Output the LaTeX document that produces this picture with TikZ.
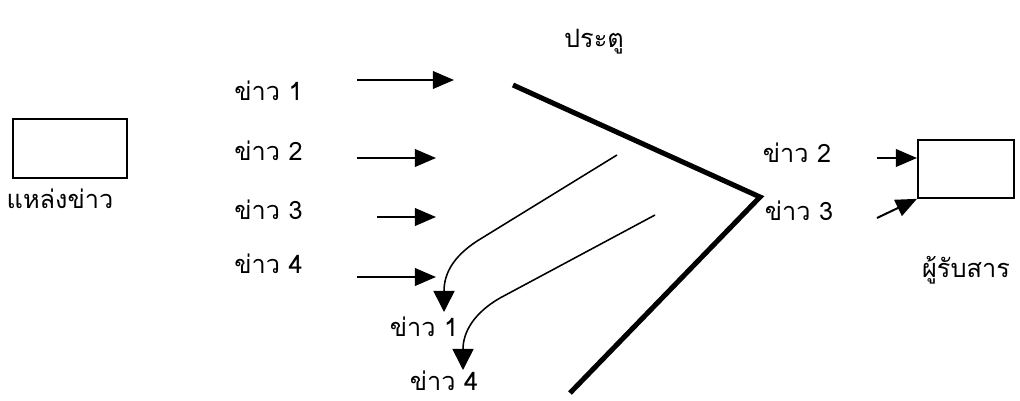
\documentclass[tikz,border=0pt]{standalone}
\usepackage{fontspec}
\setmainfont[Script=Thai]{Loma}
\usetikzlibrary{arrows.meta}
\begin{document}
\begin{tikzpicture}[x=0.025cm,y=-0.025cm,
  lbl/.style={font=\fontsize{18pt}{20pt}\selectfont, inner sep=0pt},
  box/.style={draw, line width=1.3pt, minimum width=0pt, inner sep=0pt},
  inarrow/.style={line width=1.4pt, -{Triangle[length=15pt,width=12.5pt]}},
  curvearrow/.style={line width=1.1pt, -{Triangle[length=15pt,width=15pt]}},
  gate/.style={line width=3.6pt, line join=miter}]
\useasboundingbox (0,0) rectangle (1020,401);
% source box
\draw[box] (13,119) rectangle (127,178);
\node[lbl, anchor=base] (src) at (60,208) {แหล่งข่าว};
% left labels
\node[lbl, anchor=base west] (n1) at (234,100) {ข่าว 1};
\node[lbl, anchor=base west] (n2) at (234,160) {ข่าว 2};
\node[lbl, anchor=base west] (n3) at (234,219) {ข่าว 3};
\node[lbl, anchor=base west] (n4) at (234,273) {ข่าว 4};
% input arrows
\coordinate (a1s) at (357,80);  \coordinate (a1e) at (454,80);
\coordinate (a2s) at (357,158); \coordinate (a2e) at (436,158);
\coordinate (a3s) at (377,217); \coordinate (a3e) at (436,217);
\coordinate (a4s) at (357,277); \coordinate (a4e) at (436,277);
\draw[inarrow] (a1s) -- (a1e);
\draw[inarrow] (a2s) -- (a2e);
\draw[inarrow] (a3s) -- (a3e);
\draw[inarrow] (a4s) -- (a4e);
% gate
\node[lbl, anchor=base] (gatelbl) at (594,47) {ประตู};
\coordinate (g1) at (513,85);
\coordinate (gv) at (760,197);
\coordinate (g2) at (570,393);
\draw[gate] (g1) -- (gv) -- (g2);
% rejected messages
\coordinate (c1s) at (617,155);
\coordinate (c1m) at (482,238);
\coordinate (c1e) at (444,312);
\draw[curvearrow] (c1s) -- (c1m) .. controls (455,254) and (444,272) .. (c1e);
\coordinate (c2s) at (655,215);
\coordinate (c2m) at (500,298);
\coordinate (c2e) at (463,370);
\draw[curvearrow] (c2s) -- (c2m) .. controls (474,313) and (463,332) .. (c2e);
\node[lbl, anchor=base] (r1) at (424,336) {ข่าว 1};
\node[lbl, anchor=base] (r4) at (444,390) {ข่าว 4};
% passed messages
\node[lbl, anchor=base] (p2) at (797,162) {ข่าว 2};
\node[lbl, anchor=base] (p3) at (799,220) {ข่าว 3};
% receiver box
\node[box, minimum width=96*0.025cm, minimum height=58*0.025cm, anchor=north west] (rbox) at (917,139) {};
\coordinate (b2s) at (877,158);
\coordinate (b3s) at (877,218);
\draw[inarrow] (b2s) -- (b2s -| rbox.west);
\draw[inarrow] (b3s) -- (rbox.south west);
\node[lbl, anchor=base] (recv) at (966,277) {ผู้รับสาร};
\end{tikzpicture}
\end{document}
